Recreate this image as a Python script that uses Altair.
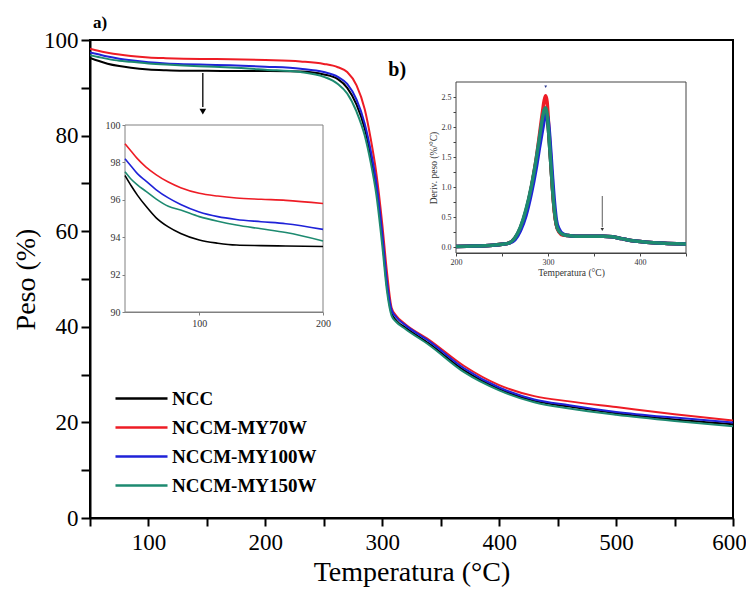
import altair as alt
import pandas as pd

# ---------------- data ----------------
SERIES = ["NCC", "NCCM-MY70W", "NCCM-MY100W", "NCCM-MY150W"]
COLORS = ["#000000", "#ee1c25", "#1f22d8", "#1d8a70"]

T_tga = [40, 45, 50, 57, 65, 75, 85, 100, 115, 130, 150, 170, 200, 230, 250, 262, 270,
         278, 285, 290, 295, 300, 304, 308, 312, 320, 340, 370, 400, 430, 460, 500, 550, 600]
w_ncc = [97.3, 96.75, 96.25, 95.65, 95.05, 94.55, 94.2, 93.85, 93.68, 93.58, 93.55, 93.53, 93.5,
         93.4, 92.8, 91.8, 90.0, 86.5, 81.5, 76.0, 69.0, 58.5, 48.5, 42.8, 41.3, 39.8, 36.5,
         30.9, 27.0, 24.5, 23.3, 21.9, 20.6, 19.6]
w_70 = [99.0, 98.6, 98.2, 97.75, 97.35, 96.95, 96.65, 96.35, 96.2, 96.1, 96.03, 95.97, 95.8,
        95.5, 95.0, 94.3, 93.3, 90.5, 85.5, 79.5, 72.0, 61.5, 51.5, 44.0, 42.3, 40.5, 37.3,
        31.8, 27.8, 25.5, 24.4, 23.2, 21.7, 20.4]
w_100 = [98.2, 97.8, 97.4, 97.0, 96.55, 96.1, 95.75, 95.35, 95.1, 94.95, 94.83, 94.72, 94.42,
         94.0, 93.3, 92.3, 90.8, 87.5, 82.5, 77.0, 70.0, 59.5, 49.5, 43.5, 42.0, 40.3, 37.0,
         31.3, 27.3, 24.8, 23.6, 22.2, 21.0, 20.0]
w_150 = [97.5, 97.1, 96.8, 96.45, 96.05, 95.65, 95.45, 95.1, 94.85, 94.65, 94.45, 94.25, 93.8,
         93.3, 92.3, 90.8, 88.8, 85.0, 80.0, 74.5, 67.5, 57.0, 47.5, 42.3, 41.0, 39.5, 36.2,
         30.5, 26.7, 24.2, 22.9, 21.6, 20.3, 19.2]

T_dtg = [200, 220, 240, 250, 258, 264, 270, 276, 282, 287, 291, 294, 296, 297.5, 299, 301, 303,
         305, 307, 309, 312, 316, 322, 330, 345, 360, 370, 380, 390, 400, 415, 430, 450]
d_ncc = [0.01, 0.015, 0.03, 0.045, 0.07, 0.15, 0.32, 0.6, 1.0, 1.42, 1.8, 2.08, 2.22, 2.27, 2.2,
         1.85, 1.4, 0.95, 0.6, 0.38, 0.26, 0.21, 0.19, 0.18, 0.18, 0.18, 0.17, 0.14, 0.11, 0.09,
         0.07, 0.06, 0.05]
d_70 = [0.01, 0.015, 0.03, 0.045, 0.07, 0.14, 0.3, 0.58, 1.0, 1.45, 1.9, 2.25, 2.45, 2.52, 2.42,
        1.95, 1.45, 0.95, 0.58, 0.37, 0.25, 0.2, 0.19, 0.18, 0.18, 0.18, 0.17, 0.14, 0.11, 0.09,
        0.07, 0.06, 0.05]
d_100 = [0.01, 0.015, 0.03, 0.045, 0.065, 0.12, 0.27, 0.52, 0.9, 1.3, 1.68, 1.95, 2.12, 2.2, 2.2,
         2.0, 1.6, 1.15, 0.75, 0.46, 0.3, 0.22, 0.19, 0.18, 0.18, 0.18, 0.17, 0.14, 0.11, 0.09,
         0.07, 0.06, 0.05]
d_150 = [0.01, 0.015, 0.03, 0.045, 0.07, 0.15, 0.33, 0.62, 1.02, 1.45, 1.85, 2.15, 2.29, 2.32,
         2.22, 1.85, 1.4, 0.95, 0.6, 0.38, 0.26, 0.21, 0.19, 0.18, 0.18, 0.18, 0.17, 0.14, 0.11,
         0.09, 0.07, 0.06, 0.05]

# ---------------- tables ----------------
def long(T, cols):
    rows = []
    for name, vals in zip(SERIES, cols):
        for t, v in zip(T, vals):
            rows.append({"T": t, "w": v, "serie": name})
    return pd.DataFrame(rows)

tga = long(T_tga, [w_ncc, w_70, w_100, w_150])
dtg = long(T_dtg, [d_ncc, d_70, d_100, d_150])
tga_main = tga[tga["T"] >= 50]
tga_zoom = tga[tga["T"] <= 200]

FONT = "Liberation Serif"
W, H = 643, 478

color = alt.Color("serie:N", scale=alt.Scale(domain=SERIES, range=COLORS),
                  sort=SERIES, legend=None)

def sx_main():
    return alt.Scale(domain=[50, 600], nice=False, zero=False)
def sy_main():
    return alt.Scale(domain=[0, 100], nice=False, zero=False)
def sx_a():
    return alt.Scale(domain=[40, 200], range=[35, 233], nice=False, zero=False)
def sy_a():
    return alt.Scale(domain=[90, 100], range=[272, 85], nice=False, zero=False)
def sx_b():
    return alt.Scale(domain=[200, 450], range=[366, 596], nice=False, zero=False)
def sy_b():
    return alt.Scale(domain=[-0.1, 2.75], range=[213, 42], nice=False, zero=False)

# ---------------- main plot ----------------
main_lines = alt.Chart(tga_main).mark_line(strokeWidth=2, interpolate="monotone", clip=True).encode(
    x=alt.X("T:Q", scale=sx_main(), title="Temperatura (°C)",
            axis=alt.Axis(orient="bottom", values=list(range(50, 601, 50)),
                          labelExpr="datum.value % 100 == 0 ? datum.label : ''",
                          labelFont=FONT, titleFont=FONT,
                          labelOffset={"condition": {"test": "datum.value == 600", "value": -4},
                                       "value": 0},
                          labelFontSize=23, titleFontSize=28, tickSize=8, tickWidth=2,
                          domainWidth=2, labelPadding=5, titlePadding=4, labelFlush=False)),
    y=alt.Y("w:Q", scale=sy_main(), title="Peso (%)",
            axis=alt.Axis(orient="left", values=list(range(0, 101, 10)),
                          labelExpr="datum.value % 20 == 0 ? datum.label : ''",
                          labelFont=FONT, titleFont=FONT,
                          labelFontSize=23, titleFontSize=28, tickSize=9, tickWidth=2,
                          domainWidth=2, labelPadding=3, titlePadding=3, labelFlush=False)),
    color=alt.Color("serie:N", scale=alt.Scale(domain=SERIES, range=COLORS), sort=SERIES,
                    legend=alt.Legend(orient="none", legendX=33, legendY=340, title=None,
                                      symbolType="M-1.53,0H1.53", symbolSize=1156,
                                      symbolStrokeWidth=2.5, labelFont=FONT,
                                      labelFontWeight="bold", labelFontSize=19,
                                      labelColor="black", labelOffset=12, labelLimit=300,
                                      rowPadding=-2)),
)

arrow_a = pd.DataFrame({"T": [146.5], "y1": [93.1], "y2": [86.0], "yh": [85.0]})
main_arrow = alt.Chart(arrow_a).mark_rule(color="black", strokeWidth=1.3).encode(
    x=alt.X("T:Q", scale=sx_main(), axis=None),
    y=alt.Y("y1:Q", scale=sy_main(), axis=None),
    y2="y2:Q",
)
main_head = alt.Chart(arrow_a).mark_point(shape="triangle-down", filled=True, color="black",
                                          size=45, opacity=1).encode(
    x=alt.X("T:Q", scale=sx_main(), axis=None),
    y=alt.Y("yh:Q", scale=sy_main(), axis=None),
)

labels = pd.DataFrame({"T": [58.6, 312.8], "v": [103.6, 93.8], "txt": ["a)", "b)"],
                       "fs": [17, 20]})
main_text = alt.Chart(labels).mark_text(font=FONT, fontWeight="bold", color="black",
                                        align="center", baseline="middle", clip=False).encode(
    x=alt.X("T:Q", scale=sx_main(), axis=None),
    y=alt.Y("v:Q", scale=sy_main(), axis=None),
    text="txt:N",
    size=alt.Size("fs:Q", scale=None, legend=None),
)

# ---------------- inset a) ----------------
frame_a = pd.DataFrame({"x0": [40], "x1": [200], "y0": [90], "y1": [100]})
inset_a_frame = alt.Chart(frame_a).mark_rect(fill="white", stroke="#808080", strokeWidth=1).encode(
    x=alt.X("x0:Q", scale=sx_a(), axis=None), x2="x1:Q",
    y=alt.Y("y0:Q", scale=sy_a(), axis=None), y2="y1:Q",
)
inset_a_lines = alt.Chart(tga_zoom).mark_line(strokeWidth=1.6, interpolate="monotone").encode(
    x=alt.X("T:Q", scale=sx_a(), title=None,
            axis=alt.Axis(orient="bottom", offset=-(H - 272), values=[100, 200],
                          labelFont=FONT, labelFontSize=10, tickSize=3, tickColor="#808080",
                          domainColor="#808080", domainWidth=1, labelPadding=3,
                          labelFlush=False, labelColor="#333333")),
    y=alt.Y("w:Q", scale=sy_a(), title=None,
            axis=alt.Axis(orient="left", offset=-35, values=[90, 92, 94, 96, 98, 100],
                          labelFont=FONT, labelFontSize=10, tickSize=3, tickColor="#808080",
                          domainColor="#808080", domainWidth=1, labelPadding=2,
                          labelFlush=False, labelColor="#333333")),
    color=color,
)

# ---------------- inset b) ----------------
frame_b = pd.DataFrame({"x0": [200], "x1": [450], "y0": [-0.1], "y1": [2.75]})
inset_b_frame = alt.Chart(frame_b).mark_rect(fill="white", stroke="#444444", strokeWidth=1).encode(
    x=alt.X("x0:Q", scale=sx_b(), axis=None), x2="x1:Q",
    y=alt.Y("y0:Q", scale=sy_b(), axis=None), y2="y1:Q",
)
inset_b_lines = alt.Chart(dtg).mark_line(strokeWidth=3.5, interpolate="monotone").encode(
    x=alt.X("T:Q", scale=sx_b(), title="Temperatura (°C)",
            axis=alt.Axis(orient="bottom", offset=-(H - 213), values=list(range(200, 451, 50)),
                          labelExpr="datum.value % 100 == 0 ? datum.label : ''",
                          labelFont=FONT, titleFont=FONT,
                          labelFontSize=8, titleFontSize=9.5, tickSize=3, tickColor="#444444",
                          domainColor="#444444", domainWidth=1, labelPadding=2,
                          titlePadding=1, labelFlush=False, labelColor="#333333",
                          titleColor="#333333")),
    y=alt.Y("w:Q", scale=sy_b(), title="Deriv. peso (%/°C)",
            axis=alt.Axis(orient="left", offset=-366,
                          values=[0, 0.25, 0.5, 0.75, 1.0, 1.25, 1.5, 1.75, 2.0, 2.25, 2.5],
                          labelExpr="round(datum.value * 4) % 2 == 0 ? format(datum.value, '.1f') : ''",
                          labelFont=FONT, titleFont=FONT,
                          labelFontSize=8, titleFontSize=9.5, tickSize=3, tickColor="#444444",
                          domainColor="#444444", domainWidth=1, labelPadding=2,
                          titlePadding=3, labelFlush=False, labelColor="#333333",
                          titleColor="#333333")),
    color=color,
)

arrow_b = pd.DataFrame({"T": [359], "y1": [0.85], "y2": [0.33], "yh": [0.29]})
inset_b_arrow = alt.Chart(arrow_b).mark_rule(color="#333333", strokeWidth=0.8).encode(
    x=alt.X("T:Q", scale=sx_b(), axis=None),
    y=alt.Y("y1:Q", scale=sy_b(), axis=None),
    y2="y2:Q",
)
inset_b_head = alt.Chart(arrow_b).mark_point(shape="triangle-down", filled=True, color="#333333",
                                             size=12, opacity=1).encode(
    x=alt.X("T:Q", scale=sx_b(), axis=None),
    y=alt.Y("yh:Q", scale=sy_b(), axis=None),
)
peak = pd.DataFrame({"T": [297.5], "v": [2.67]})
inset_b_peak = alt.Chart(peak).mark_point(shape="triangle-down", filled=True, color="#2b3990",
                                          size=8, opacity=1).encode(
    x=alt.X("T:Q", scale=sx_b(), axis=None),
    y=alt.Y("v:Q", scale=sy_b(), axis=None),
)

chart = alt.layer(
    main_lines, main_arrow, main_head, main_text,
    inset_a_frame, inset_a_lines,
    inset_b_frame, inset_b_lines, inset_b_arrow, inset_b_head, inset_b_peak,
).resolve_scale(
    x="independent", y="independent"
).properties(
    width=W, height=H,
    padding={"left": 82, "top": 32, "right": 13, "bottom": 70},
    autosize=alt.AutoSizeParams(type="none"),
    background="white",
).configure_view(
    stroke="black", strokeWidth=2
).configure_axis(
    grid=False, labelFont=FONT, titleFont=FONT, labelColor="black", titleColor="black",
    titleFontWeight="normal", domainColor="black", tickColor="black", labelOverlap=False,
)

chart.save("out.html", embed_options={"renderer": "svg", "actions": False})
